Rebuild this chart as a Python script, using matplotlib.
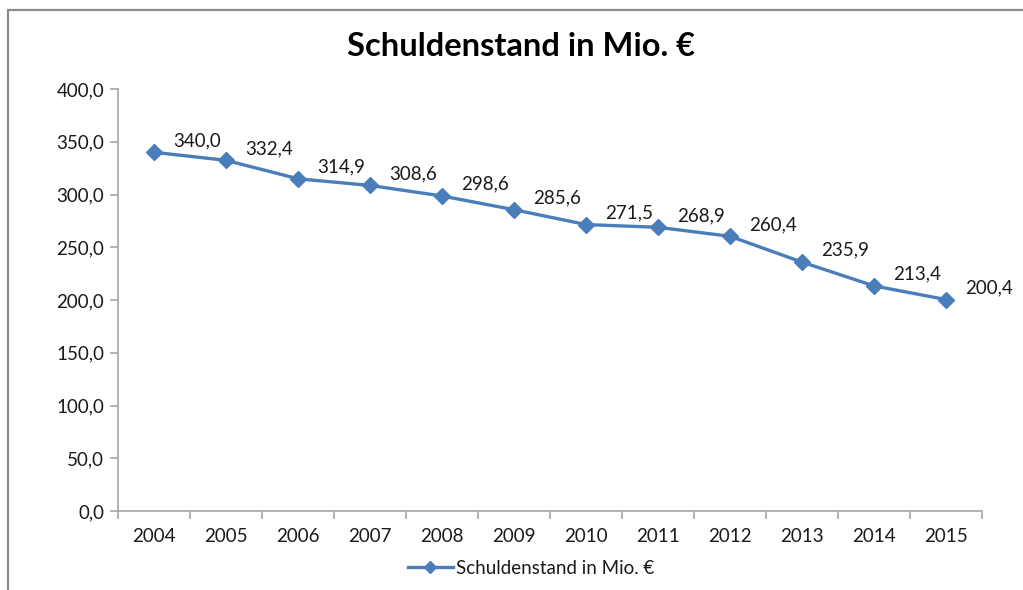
import numpy as np
import matplotlib
matplotlib.use("Agg")
import matplotlib.pyplot as plt
from matplotlib.patches import Rectangle

years = ["2004", "2005", "2006", "2007", "2008", "2009",
         "2010", "2011", "2012", "2013", "2014", "2015"]
debt = [340.0, 332.4, 314.9, 308.6, 298.6, 285.6,
        271.5, 268.9, 260.4, 235.9, 213.4, 200.4]
series_name = "Schuldenstand in Mio. €"
title = "Schuldenstand in Mio. €"
yticks = [0, 50, 100, 150, 200, 250, 300, 350, 400]

plt.rcParams['font.family'] = ['Lato', 'DejaVu Sans']

blue = '#4a7ebb'
axcol = '#a6a6a6'
fs = 13.5

fig = plt.figure(figsize=(10.23, 5.90), dpi=100)
ax = fig.add_axes([118/1023, 1-511/590, 864/1023, 422/590])

# grey chart frame, cut off on the right and bottom like the screenshot
fig.patches.append(Rectangle((8/1023, -0.1), 1.2, 1.1-10/590, transform=fig.transFigure,
                             fill=False, edgecolor='#8c8c8c', linewidth=1.6))

x = np.arange(len(years))
ax.plot(x, debt, color=blue, linewidth=2.4, marker='D', markersize=8,
        markeredgecolor=blue, markerfacecolor=blue, label=series_name, clip_on=False)

for xi, v in zip(x, debt):
    ax.annotate(('%.1f' % v).replace('.', ','), (xi, v), xytext=(14, 8.5),
                textcoords='offset points', ha='left', va='center',
                fontsize=fs, color='#1a1a1a')

ax.set_xlim(-0.5, len(years) - 0.5)
ax.set_ylim(0, 400)
ax.set_yticks(yticks)
ax.set_yticklabels([('%.1f' % t).replace('.', ',') for t in yticks])

# category ticks between the years, labels at the centres
ax.set_xticks(np.arange(len(years) + 1) - 0.5)
ax.set_xticklabels([])
ax.set_xticks(x, minor=True)
ax.set_xticklabels(years, minor=True)
ax.tick_params(axis='x', which='minor', length=0, pad=12, labelsize=fs, labelcolor='#1a1a1a')
ax.tick_params(axis='x', which='major', length=6, color=axcol, width=1.2)
ax.tick_params(axis='y', length=6, color=axcol, width=1.2, pad=4, labelsize=fs, labelcolor='#1a1a1a')

for s in ['top', 'right']:
    ax.spines[s].set_visible(False)
for s in ['left', 'bottom']:
    ax.spines[s].set_color(axcol)
    ax.spines[s].set_linewidth(1.2)

fig.text(521/1023, 1-47/590, title, ha='center', va='center',
         fontsize=23.5, fontweight='bold', color='black')

leg = fig.legend(loc='center', bbox_to_anchor=(531/1023, 1-568/590), frameon=False,
                 fontsize=fs, handlelength=2.4, handletextpad=0.2, markerscale=0.8)
for t in leg.get_texts():
    t.set_color('#1a1a1a')

fig.savefig('out.png', dpi=100)
